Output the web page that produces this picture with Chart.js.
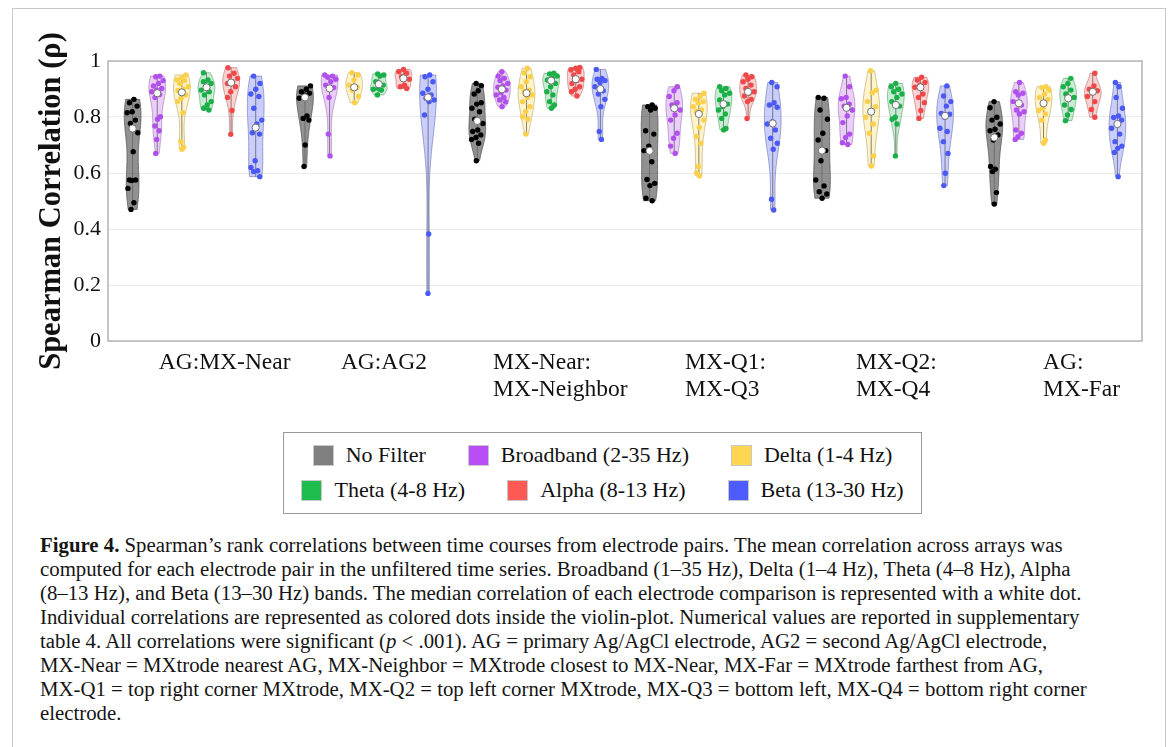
<!DOCTYPE html>
<html>
<head>
<meta charset="utf-8">
<script src="https://cdn.jsdelivr.net/npm/chart.js@4.4.0/dist/chart.umd.min.js"></script>
<style>
    body { margin: 0; background: #fff; width: 1174px; height: 747px; overflow: hidden; position: relative; font-family: "Liberation Serif", serif; color: #111; }
    #frame { position: absolute; left: 12px; top: 8px; width: 1152px; height: 800px; border: 1px solid #c9c9c9; }
    #wrap { position: absolute; left: 0; top: 0; width: 1174px; height: 420px; }
    #legend { position: absolute; left: 283px; top: 432px; width: 637px; height: 80px; border: 1.5px solid #9a9a9a; background: #fff; }
    .row { position: absolute; left: 0; right: 0; display: flex; justify-content: center; align-items: center; gap: 42px; font-family: "Liberation Serif", serif; font-size: 22px; }
    .item { display: flex; align-items: center; }
    .sw { width: 19px; height: 19px; border: 1px solid #c8c8c8; margin-right: 12px; }
    #caption { position: absolute; left: 40px; top: 533px; font-family: "Liberation Serif", serif; font-size: 20.8px; line-height: 24px; white-space: nowrap; color: #151515; }
</style>
</head>
<body>
<div id="frame"></div>
<div id="wrap"><canvas id="chart" width="1174" height="420"></canvas></div>
<div id="legend"></div>
<div id="caption">
<b>Figure 4.</b> Spearman’s rank correlations between time courses from electrode pairs. The mean correlation across arrays was<br>
computed for each electrode pair in the unfiltered time series. Broadband (1–35 Hz), Delta (1–4 Hz), Theta (4–8 Hz), Alpha<br>
(8–13 Hz), and Beta (13–30 Hz) bands. The median correlation of each electrode comparison is represented with a white dot.<br>
Individual correlations are represented as colored dots inside the violin-plot. Numerical values are reported in supplementary<br>
table 4. All correlations were significant (<i>p</i> &lt; .001). AG = primary Ag/AgCl electrode, AG2 = second Ag/AgCl electrode,<br>
MX-Near = MXtrode nearest AG, MX-Neighbor = MXtrode closest to MX-Near, MX-Far = MXtrode farthest from AG,<br>
MX-Q1 = top right corner MXtrode, MX-Q2 = top left corner MXtrode, MX-Q3 = bottom left, MX-Q4 = bottom right corner<br>
electrode.
</div>
<script>
const groups = [['AG:MX-Near'], ['AG:AG2'], ['MX-Near:', 'MX-Neighbor'], ['MX-Q1:', 'MX-Q3'], ['MX-Q2:', 'MX-Q4'], ['AG:', 'MX-Far']];
const labelPos = [1.06, 8.46, 14.64, 22.44, 29.38, 36.98];
const bands = ['No Filter', 'Broadband (2-35 Hz)', 'Delta (1-4 Hz)', 'Theta (4-8 Hz)', 'Alpha (8-13 Hz)', 'Beta (13-30 Hz)'];
const yTicks = [0, 0.2, 0.4, 0.6, 0.8, 1];

// individual correlations, one list per electrode pair
const noFilter = [
    [0.863, 0.851, 0.839, 0.819, 0.815, 0.789, 0.777, 0.744, 0.676, 0.575, 0.575, 0.573, 0.545, 0.494, 0.470],
    [0.911, 0.899, 0.890, 0.885, 0.879, 0.867, 0.804, 0.795, 0.789, 0.700, 0.623],
    [0.920, 0.912, 0.894, 0.882, 0.851, 0.846, 0.831, 0.819, 0.792, 0.777, 0.754, 0.748, 0.736, 0.727, 0.720, 0.706, 0.644],
    [0.843, 0.837, 0.831, 0.825, 0.751, 0.739, 0.696, 0.680, 0.640, 0.577, 0.563, 0.555, 0.510, 0.501],
    [0.870, 0.867, 0.825, 0.792, 0.742, 0.718, 0.680, 0.644, 0.575, 0.554, 0.533, 0.525, 0.510],
    [0.855, 0.833, 0.799, 0.789, 0.775, 0.756, 0.751, 0.736, 0.718, 0.623, 0.614, 0.605, 0.530, 0.489]
];
const broadband = [
    [0.946, 0.944, 0.930, 0.920, 0.911, 0.902, 0.896, 0.890, 0.880, 0.870, 0.801, 0.792, 0.768, 0.751, 0.720, 0.670],
    [0.950, 0.946, 0.942, 0.935, 0.926, 0.914, 0.905, 0.870, 0.739, 0.661],
    [0.962, 0.946, 0.938, 0.930, 0.920, 0.911, 0.906, 0.896, 0.887, 0.879, 0.870, 0.861, 0.854, 0.837],
    [0.908, 0.894, 0.873, 0.851, 0.843, 0.825, 0.807, 0.789, 0.742, 0.724, 0.696, 0.670],
    [0.946, 0.908, 0.870, 0.865, 0.846, 0.839, 0.825, 0.804, 0.780, 0.739, 0.727, 0.708, 0.702],
    [0.923, 0.890, 0.885, 0.879, 0.855, 0.843, 0.825, 0.819, 0.811, 0.754, 0.742, 0.730, 0.720]
];
const delta = [
    [0.950, 0.940, 0.932, 0.930, 0.920, 0.908, 0.899, 0.895, 0.879, 0.867, 0.855, 0.815, 0.712, 0.692, 0.685],
    [0.958, 0.950, 0.932, 0.914, 0.906, 0.896, 0.873, 0.851],
    [0.974, 0.958, 0.944, 0.926, 0.908, 0.896, 0.890, 0.879, 0.870, 0.855, 0.837, 0.819, 0.801, 0.792, 0.739],
    [0.885, 0.873, 0.863, 0.855, 0.850, 0.837, 0.825, 0.820, 0.789, 0.763, 0.730, 0.706, 0.623, 0.600, 0.589],
    [0.965, 0.896, 0.887, 0.855, 0.837, 0.819, 0.799, 0.775, 0.742, 0.661, 0.625],
    [0.908, 0.905, 0.896, 0.882, 0.870, 0.863, 0.831, 0.823, 0.811, 0.789, 0.718, 0.706]
];
const theta = [
    [0.958, 0.932, 0.926, 0.920, 0.908, 0.896, 0.890, 0.879, 0.855, 0.843, 0.831, 0.825],
    [0.954, 0.950, 0.946, 0.926, 0.914, 0.902, 0.899, 0.896, 0.879],
    [0.956, 0.954, 0.946, 0.938, 0.932, 0.920, 0.908, 0.890, 0.879, 0.855, 0.843, 0.831],
    [0.908, 0.902, 0.894, 0.885, 0.879, 0.861, 0.846, 0.837, 0.825, 0.811, 0.795, 0.759, 0.754],
    [0.920, 0.908, 0.899, 0.890, 0.882, 0.870, 0.855, 0.839, 0.799, 0.792, 0.775, 0.661],
    [0.938, 0.920, 0.908, 0.896, 0.882, 0.870, 0.863, 0.843, 0.827, 0.807, 0.787]
];
const alpha = [
    [0.976, 0.956, 0.946, 0.938, 0.926, 0.920, 0.908, 0.890, 0.870, 0.823, 0.738],
    [0.970, 0.962, 0.956, 0.944, 0.935, 0.914, 0.908, 0.902],
    [0.977, 0.974, 0.968, 0.962, 0.950, 0.935, 0.930, 0.920, 0.908, 0.899, 0.890, 0.875],
    [0.950, 0.944, 0.935, 0.926, 0.914, 0.902, 0.890, 0.885, 0.875, 0.863, 0.855, 0.795],
    [0.942, 0.932, 0.923, 0.914, 0.906, 0.882, 0.870, 0.851, 0.823, 0.795],
    [0.956, 0.911, 0.899, 0.894, 0.885, 0.873, 0.855, 0.827, 0.799]
];
const beta = [
    [0.946, 0.920, 0.899, 0.882, 0.873, 0.831, 0.789, 0.775, 0.744, 0.739, 0.644, 0.620, 0.608, 0.605, 0.587],
    [0.950, 0.944, 0.926, 0.899, 0.885, 0.879, 0.867, 0.861, 0.855, 0.807, 0.382, 0.170],
    [0.970, 0.938, 0.935, 0.930, 0.923, 0.908, 0.894, 0.882, 0.863, 0.837, 0.748, 0.720],
    [0.923, 0.908, 0.851, 0.843, 0.835, 0.783, 0.775, 0.754, 0.724, 0.706, 0.685, 0.506, 0.468],
    [0.911, 0.875, 0.855, 0.839, 0.813, 0.810, 0.799, 0.760, 0.748, 0.712, 0.670, 0.599, 0.555],
    [0.923, 0.908, 0.870, 0.831, 0.804, 0.798, 0.789, 0.775, 0.760, 0.739, 0.712, 0.696, 0.688, 0.673, 0.587]
];

// medians (white dots)
const medNoFilter = [0.759, 0.870, 0.786, 0.679, 0.680, 0.727];
const medBroadband = [0.885, 0.902, 0.899, 0.831, 0.833, 0.849];
const medDelta = [0.888, 0.906, 0.885, 0.811, 0.819, 0.849];
const medTheta = [0.906, 0.917, 0.930, 0.846, 0.843, 0.867];
const medAlpha = [0.923, 0.938, 0.935, 0.890, 0.906, 0.890];
const medBeta = [0.762, 0.870, 0.900, 0.777, 0.804, 0.775];

const series = [noFilter, broadband, delta, theta, alpha, beta];
const medians = [medNoFilter, medBroadband, medDelta, medTheta, medAlpha, medBeta];

const swatchColors = ['#808080', '#b74ff5', '#fed64f', '#1ebd4e', '#fe5a55', '#4e5cfe'];
const dotColors = ['#000000', '#b150ec', '#fbd04a', '#19b047', '#f04848', '#4a58f4'];
const fillColors = ['rgba(0,0,0,0.43)', 'rgba(183,79,245,0.28)', 'rgba(254,214,79,0.3)', 'rgba(30,189,78,0.25)', 'rgba(254,90,85,0.28)', 'rgba(78,92,254,0.3)'];
const edgeColors = ['rgba(90,90,90,0.8)', 'rgba(150,110,170,0.6)', 'rgba(180,160,90,0.6)', 'rgba(90,150,100,0.6)', 'rgba(170,100,100,0.6)', 'rgba(100,110,170,0.6)'];

const SLOTS = 7;
const HALF_W = 0.34;
const FONT = '"Liberation Serif", "DejaVu Serif", serif';

function slot(g, j) {
    return SLOTS * g + j;
}

function bandwidth(vals) {
    const n = vals.length;
    const mean = vals.reduce((a, b) => a + b, 0) / n;
    const sd = Math.sqrt(vals.reduce((a, b) => a + (b - mean) ** 2, 0) / (n - 1));
    return sd * Math.pow(n, -0.2);
}

function density(vals, bw, y) {
    let d = 0;
    vals.forEach(v => {
        const z = (y - v) / bw;
        d += Math.exp(-0.5 * z * z);
    });
    return d;
}

function violinShape(vals) {
    const bw = bandwidth(vals);
    const lo = Math.min(...vals), hi = Math.max(...vals);
    const pts = [];
    for (let k = 0; k <= 80; k++) {
        const y = lo + (hi - lo) * k / 80;
        pts.push([y, density(vals, bw, y)]);
    }
    const mx = Math.max(...pts.map(p => p[1]));
    return { pts: pts.map(p => [p[0], p[1] / mx]), bw: bw, max: mx, lo: lo, hi: hi };
}

const shapes = series.map(s => s.map(vals => violinShape(vals)));

function frac(v) {
    return v - Math.floor(v);
}

const dotDatasets = series.map((s, j) => ({
    type: 'scatter',
    label: bands[j],
    order: 2,
    data: s.flatMap((vals, g) => vals.map((v, i) => {
        const sh = shapes[j][g];
        const w = density(vals, sh.bw, v) / sh.max;
        const off = (frac((i + 1) * 0.618034 + g * 0.37 + j * 0.13) - 0.5) * 2 * HALF_W * w * 0.8;
        return { x: slot(g, j) + off, y: v };
    })),
    pointRadius: 2.7,
    pointHoverRadius: 2.7,
    pointBorderWidth: 0,
    backgroundColor: dotColors[j]
}));

const medianDataset = {
    type: 'scatter',
    label: 'median',
    order: 1,
    data: medians.flatMap((m, j) => m.map((v, g) => ({ x: slot(g, j), y: v }))),
    pointRadius: 3.6,
    pointHoverRadius: 3.6,
    pointBorderWidth: 1,
    borderColor: '#707070',
    backgroundColor: '#ffffff'
};

const violinPlugin = {
    id: 'violins',
    beforeDatasetsDraw(chart) {
        const ctx = chart.ctx;
        const x = chart.scales.x, y = chart.scales.y;
        ctx.save();
        shapes.forEach((row, j) => row.forEach((sh, g) => {
            const c = slot(g, j);
            ctx.beginPath();
            sh.pts.forEach(([v, d], k) => {
                const px = x.getPixelForValue(c - HALF_W * d), py = y.getPixelForValue(v);
                if (k === 0) ctx.moveTo(px, py); else ctx.lineTo(px, py);
            });
            for (let k = sh.pts.length - 1; k >= 0; k--) {
                const [v, d] = sh.pts[k];
                ctx.lineTo(x.getPixelForValue(c + HALF_W * d), y.getPixelForValue(v));
            }
            ctx.closePath();
            ctx.fillStyle = fillColors[j];
            ctx.fill();
            ctx.strokeStyle = edgeColors[j];
            ctx.lineWidth = 1;
            ctx.stroke();

            ctx.beginPath();
            ctx.moveTo(x.getPixelForValue(c), y.getPixelForValue(sh.lo));
            ctx.lineTo(x.getPixelForValue(c), y.getPixelForValue(sh.hi));
            ctx.strokeStyle = 'rgba(100,100,100,0.8)';
            ctx.lineWidth = 1;
            ctx.stroke();
        }));
        ctx.restore();
    },
    afterDraw(chart) {
        const { ctx, chartArea } = chart;
        ctx.save();
        ctx.strokeStyle = '#b4b4b4';
        ctx.lineWidth = 1.5;
        ctx.strokeRect(chartArea.left, chartArea.top, chartArea.right - chartArea.left, chartArea.bottom - chartArea.top);
        ctx.restore();
    }
};

new Chart(document.getElementById('chart'), {
    type: 'scatter',
    data: { datasets: [medianDataset, ...dotDatasets] },
    options: {
        responsive: false,
        animation: false,
        devicePixelRatio: 1,
        layout: { padding: { left: 34, top: 61, right: 32, bottom: 9 } },
        plugins: { legend: { display: false }, tooltip: { enabled: false } },
        scales: {
            x: {
                type: 'linear',
                min: -1,
                max: 41,
                grid: { display: false },
                border: { display: false },
                afterBuildTicks: axis => { axis.ticks = labelPos.map(v => ({ value: v })); },
                afterFit: axis => { axis.height = 70; },
                ticks: {
                    autoSkip: false,
                    maxRotation: 0,
                    align: 'start',
                    padding: 0,
                    color: '#111',
                    font: { family: FONT, size: 23.5, lineHeight: 1.15 },
                    callback: (val, i) => groups[i]
                }
            },
            y: {
                min: 0,
                max: 1,
                afterBuildTicks: axis => { axis.ticks = yTicks.map(v => ({ value: v })); },
                afterFit: axis => { axis.width = 74; },
                grid: { color: '#ececec', drawTicks: false },
                border: { display: false },
                ticks: {
                    padding: 7,
                    color: '#111',
                    font: { family: FONT, size: 22 },
                    callback: v => (v === 0 || v === 1) ? String(v) : v.toFixed(1)
                },
                title: {
                    display: true,
                    text: 'Spearman Correlation (ρ)',
                    color: '#111',
                    padding: 0,
                    font: { family: FONT, size: 30.5, weight: 'bold' }
                }
            }
        }
    },
    plugins: [violinPlugin]
});

// legend, two centred rows of three
const legend = document.getElementById('legend');
[[0, 1, 2], [3, 4, 5]].forEach((idx, r) => {
    const row = document.createElement('div');
    row.className = 'row';
    row.style.top = (r === 0 ? 9 : 44) + 'px';
    idx.forEach(j => {
        const item = document.createElement('div');
        item.className = 'item';
        const sw = document.createElement('div');
        sw.className = 'sw';
        sw.style.background = swatchColors[j];
        const txt = document.createElement('span');
        txt.textContent = bands[j];
        item.appendChild(sw);
        item.appendChild(txt);
        row.appendChild(item);
    });
    legend.appendChild(row);
});
</script>
</body>
</html>
